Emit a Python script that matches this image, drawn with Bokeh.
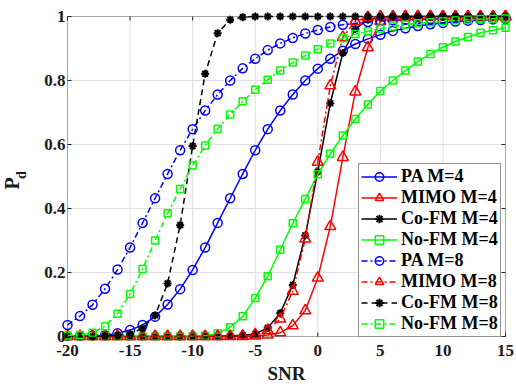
from bokeh.plotting import figure
from bokeh.models import (Range1d, LinearAxis, FixedTicker, Legend, LegendItem,
                          BoxAnnotation, Title)
from bokeh.embed import file_html
from bokeh.resources import INLINE

# ---------------- data ----------------
snr = list(range(-20, 16))

pa4 = [0.0005, 0.001, 0.002, 0.004, 0.010, 0.020, 0.036, 0.062, 0.100, 0.148,
       0.208, 0.278, 0.355, 0.432, 0.508, 0.582, 0.648, 0.706, 0.756, 0.800,
       0.837, 0.868, 0.893, 0.914, 0.930, 0.943, 0.955, 0.963, 0.970, 0.976,
       0.980, 0.984, 0.987, 0.989, 0.991, 0.992]
mimo4 = [0.0, 0.0, 0.0, 0.0, 0.0, 0.0, 0.0, 0.0, 0.0, 0.0,
         0.0, 0.0, 0.0, 0.0, 0.0, 0.002, 0.005, 0.012, 0.034, 0.081,
         0.183, 0.344, 0.560, 0.765, 0.903, 0.985, 0.997, 1.0, 1.0, 1.0,
         1.0, 1.0, 1.0, 1.0, 1.0, 1.0]
cofm4 = [0.0, 0.0, 0.0, 0.0, 0.0, 0.0, 0.0, 0.0, 0.0, 0.0,
         0.0, 0.001, 0.001, 0.002, 0.004, 0.008, 0.027, 0.073, 0.161, 0.316,
         0.515, 0.729, 0.886, 0.961, 0.990, 0.998, 1.0, 1.0, 1.0, 1.0,
         1.0, 1.0, 1.0, 1.0, 1.0, 1.0]
nofm4 = [0.0, 0.0, 0.0, 0.0, 0.0, 0.0, 0.0, 0.0, 0.0, 0.0,
         0.001, 0.002, 0.010, 0.029, 0.063, 0.120, 0.188, 0.271, 0.354, 0.430,
         0.507, 0.571, 0.628, 0.680, 0.725, 0.767, 0.800, 0.831, 0.859, 0.883,
         0.904, 0.922, 0.936, 0.949, 0.957, 0.965]
pa8 = [0.036, 0.064, 0.099, 0.149, 0.209, 0.278, 0.355, 0.432, 0.508, 0.582,
       0.648, 0.706, 0.756, 0.800, 0.838, 0.868, 0.895, 0.916, 0.933, 0.947,
       0.958, 0.967, 0.974, 0.979, 0.983, 0.986, 0.988, 0.990, 0.991, 0.992,
       0.993, 0.994, 0.994, 0.995, 0.995, 0.996]
mimo8 = [0.0, 0.0, 0.0, 0.0, 0.0, 0.0, 0.0, 0.0, 0.0, 0.0,
         0.0, 0.0, 0.0, 0.001, 0.002, 0.006, 0.019, 0.055, 0.142, 0.305,
         0.545, 0.784, 0.935, 0.985, 0.998, 1.0, 1.0, 1.0, 1.0, 1.0,
         1.0, 1.0, 1.0, 1.0, 1.0, 1.0]
cofm8 = [0.0, 0.0, 0.001, 0.002, 0.004, 0.008, 0.025, 0.066, 0.166, 0.348,
         0.595, 0.821, 0.948, 0.990, 0.998, 1.0, 1.0, 1.0, 1.0, 1.0,
         1.0, 1.0, 1.0, 1.0, 1.0, 1.0, 1.0, 1.0, 1.0, 1.0,
         1.0, 1.0, 1.0, 1.0, 1.0, 1.0]
nofm8 = [0.003, 0.005, 0.012, 0.032, 0.071, 0.133, 0.211, 0.300, 0.385, 0.461,
         0.534, 0.597, 0.649, 0.694, 0.735, 0.771, 0.802, 0.831, 0.856, 0.878,
         0.898, 0.916, 0.932, 0.945, 0.954, 0.962, 0.969, 0.974, 0.979, 0.982,
         0.985, 0.988, 0.990, 0.992, 0.993, 0.994]

labels = ["PA M=4", "MIMO M=4", "Co-FM M=4", "No-FM M=4",
          "PA M=8", "MIMO M=8", "Co-FM M=8", "No-FM M=8"]
values = [pa4, mimo4, cofm4, nofm4, pa8, mimo8, cofm8, nofm8]

xticks = [-20, -15, -10, -5, 0, 5, 10, 15]
xtick_labels = ["-20", "-15", "-10", "-5", "0", "5", "10", "15"]
yticks = [0, 0.2, 0.4, 0.6, 0.8, 1]
ytick_labels = ["0", "0.2", "0.4", "0.6", "0.8", "1"]
xlim = (-20, 15)
ylim = (0, 1)

# ---------------- styles ----------------
colors = ["#0000ff", "#ff0000", "#000000", "#00ff00"] * 2
markers = ["circle", "triangle", "asterisk", "square"] * 2
msizes = [9, 11, 8, 7] * 2
dashes = ["solid"] * 4 + ["6 3 2 3", "6 3 2 3", "6 4", "6 3 2 3"]

FONT = "Liberation Serif"
AX = "#262626"
TXT = "#1a1a1a"
PAD = 7    # px around the axes box so edge markers are not clipped
PADB = 4   # bottom pad (leaves room for the x labels)

xpx = 438.0 / (xlim[1] - xlim[0])
ypx = 320.0 / (ylim[1] - ylim[0])

p = figure(width=516, height=388,
           x_range=Range1d(xlim[0] - PAD / xpx, xlim[1] + PAD / xpx),
           y_range=Range1d(ylim[0] - PADB / ypx, ylim[1] + PAD / ypx),
           output_backend="svg", toolbar_location=None,
           x_axis_location=None, y_axis_location=None,
           min_border_left=60, min_border_right=4,
           min_border_top=9, min_border_bottom=48)
p.grid.visible = False
p.outline_line_color = None
p.background_fill_color = "white"
p.border_fill_color = "white"

# grid lines
p.segment(x0=xticks, y0=[ylim[0]] * len(xticks), x1=xticks,
          y1=[ylim[1]] * len(xticks), line_color="#dfdfdf", line_width=1)
p.segment(x0=[xlim[0]] * len(yticks), y0=yticks, x1=[xlim[1]] * len(yticks),
          y1=yticks, line_color="#dfdfdf", line_width=1)


def label_axis(ticks, tlabels, standoff):
    return LinearAxis(ticker=FixedTicker(ticks=ticks),
                      major_label_overrides=dict(zip(ticks, tlabels)),
                      axis_line_color=None, major_tick_line_color=None,
                      minor_tick_line_color=None,
                      major_tick_in=0, major_tick_out=0,
                      minor_tick_in=0, minor_tick_out=0,
                      major_label_text_font=FONT,
                      major_label_text_font_style="bold",
                      major_label_text_font_size="17px",
                      major_label_text_color=TXT,
                      major_label_standoff=standoff,
                      axis_label_text_font=FONT,
                      axis_label_text_font_style="bold",
                      axis_label_text_color=TXT)


xax = label_axis(xticks, xtick_labels, 4)
xax.axis_label = "SNR"
xax.axis_label_text_font_size = "19px"
xax.axis_label_standoff = 4
p.add_layout(xax, "below")

yax = label_axis(yticks, ytick_labels, -5)
yax.axis_label = "d"
yax.axis_label_text_font_size = "14px"
yax.axis_label_standoff = 12
p.add_layout(yax, "left")

p.add_layout(Title(text="P", text_font=FONT, text_font_style="bold",
                   text_font_size="20px", text_color=TXT, align="left",
                   vertical_align="bottom", offset=151, standoff=-22), "left")

items = []
for lab, vals, c, m, ms, d in zip(labels, values, colors, markers, msizes, dashes):
    lr = p.line(snr, vals, line_color=c, line_width=1.5, line_dash=d)
    sr = p.scatter(snr, vals, marker=m, size=ms, line_color=c,
                   fill_alpha=0, line_width=2 if m == "asterisk" else 1.5)
    items.append(LegendItem(label=lab, renderers=[lr, sr]))

# axes box and inward ticks
tly = 4 / ypx
tlx = 4 / xpx
p.segment(x0=xticks, y0=[ylim[0]] * len(xticks), x1=xticks,
          y1=[ylim[0] + tly] * len(xticks), line_color=AX, line_width=1)
p.segment(x0=xticks, y0=[ylim[1]] * len(xticks), x1=xticks,
          y1=[ylim[1] - tly] * len(xticks), line_color=AX, line_width=1)
p.segment(x0=[xlim[0]] * len(yticks), y0=yticks, x1=[xlim[0] + tlx] * len(yticks),
          y1=yticks, line_color=AX, line_width=1)
p.segment(x0=[xlim[1]] * len(yticks), y0=yticks, x1=[xlim[1] - tlx] * len(yticks),
          y1=yticks, line_color=AX, line_width=1)
p.add_layout(BoxAnnotation(left=xlim[0], right=xlim[1], bottom=ylim[0], top=ylim[1],
                           fill_alpha=0, line_color=AX, line_width=1))

legend = Legend(items=items, location=(298, 3),
                label_text_font=FONT, label_text_font_style="bold",
                label_text_font_size="18px", label_text_color="#000000",
                glyph_width=36, glyph_height=21, label_height=21,
                label_standoff=4, spacing=0, padding=2, margin=0,
                border_line_color=AX, border_line_width=1,
                background_fill_color="white", background_fill_alpha=1)
p.add_layout(legend)

open("out.html", "w").write(file_html(p, INLINE))
